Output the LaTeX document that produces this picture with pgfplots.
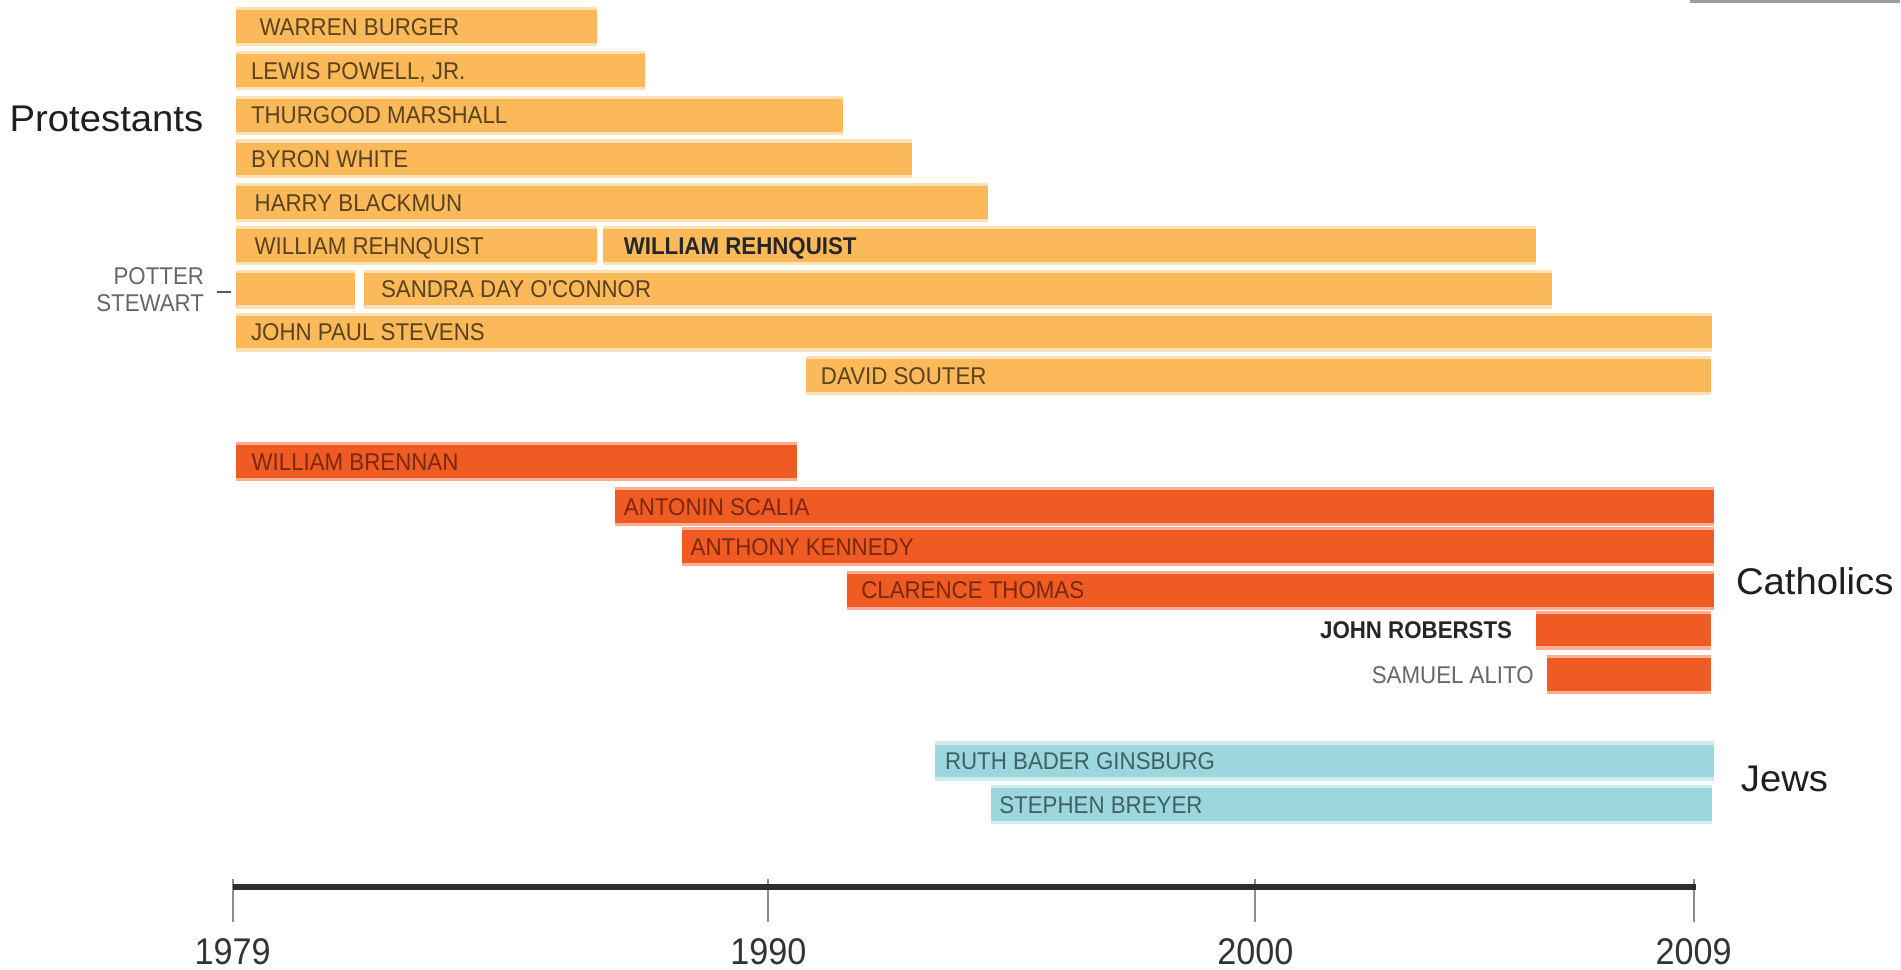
\documentclass[border=0pt]{standalone}
\usepackage{pgfplots}
\pgfplotsset{compat=1.18}
\usepackage{fontspec}
\setmainfont{Liberation Sans}
\newfontfamily\namefont{Liberation Sans}[FakeStretch=0.92]
\newfontfamily\groupfont{Liberation Sans}[FakeStretch=1.03]

\definecolor{prot}{HTML}{FBB95A}
\definecolor{protL}{HTML}{FDE2B6}
\definecolor{prottext}{HTML}{5A421C}
\definecolor{cath}{HTML}{F05A23}
\definecolor{cathL}{HTML}{F7AE92}
\definecolor{cathtext}{HTML}{7A280E}
\definecolor{jew}{HTML}{9BD7DD}
\definecolor{jewL}{HTML}{CFEDF0}
\definecolor{jewtext}{HTML}{3E6066}

\tikzset{
  protbar/.style={draw=prot, line width=8.1pt, preaction={draw=protL, line width=9.7pt}},
  cathbar/.style={draw=cath, line width=8.1pt, preaction={draw=cathL, line width=9.7pt}},
  jewbar/.style={draw=jew, line width=8.1pt, preaction={draw=jewL, line width=9.7pt}},
  lbl/.style={font=\namefont\fontsize{6}{7}\selectfont, inner sep=0pt, outer sep=0pt,
    text height=4.3pt, text depth=0pt, anchor=west, pos=0},
  lblb/.style={lbl, font=\namefont\fontsize{6}{7}\bfseries\selectfont, text=black!85},
  grp/.style={font=\groupfont\fontsize{9.2}{11}\selectfont, inner sep=0pt, outer sep=0pt,
    text height=6.6pt, text depth=0pt, anchor=west, text=black!88},
}

\begin{document}
\begin{tikzpicture}
\begin{axis}[
  width=470.4pt, height=240pt, scale only axis,
  xmin=1974.224, xmax=2013.229, ymin=-68, ymax=732,
  clip=false,
  axis background/.style={fill=white},
  axis x line=middle, axis y line=none,
  x axis line style={draw=none},
  xtick={1979,1990,2000,2009},
  xticklabels={1979,1990,2000,2009},
  ytick=\empty,
  tick align=outside,
  major tick length=10.7pt,
  xtick style={draw=black!45, line width=0.5pt, yshift=1.9pt},
  xticklabel style={font=\namefont\fontsize{9.2}{11}\selectfont, text=black!80,
    inner sep=0pt, outer sep=0pt, text height=6.6pt, text depth=0pt, anchor=north, yshift=-1.9pt},
]

% Protestants
\addplot[protbar] coordinates {(1979.08,710) (1986.48,710)} node[lbl, xshift=5.7pt, text=prottext] {WARREN BURGER};
\addplot[protbar] coordinates {(1979.08,674) (1987.47,674)} node[lbl, xshift=3.6pt, text=prottext] {LEWIS POWELL, JR.};
\addplot[protbar] coordinates {(1979.08,637) (1991.54,637)} node[lbl, xshift=3.6pt, text=prottext] {THURGOOD MARSHALL};
\addplot[protbar] coordinates {(1979.08,601) (1992.96,601)} node[lbl, xshift=3.6pt, text=prottext] {BYRON WHITE};
\addplot[protbar] coordinates {(1979.08,565) (1994.51,565)} node[lbl, xshift=4.5pt, text=prottext] {HARRY BLACKMUN};
\addplot[protbar] coordinates {(1979.08,529.5) (1986.48,529.5)} node[lbl, xshift=4.5pt, text=prottext] {WILLIAM REHNQUIST};
\addplot[protbar] coordinates {(1986.61,529.5) (2005.77,529.5)} node[lblb, xshift=5.1pt] {WILLIAM REHNQUIST};
\addplot[protbar] coordinates {(1979.08,493.5) (1981.51,493.5)};
\addplot[protbar] coordinates {(1981.70,493.5) (2006.09,493.5)} node[lbl, xshift=4.2pt, text=prottext] {SANDRA DAY O'CONNOR};
\addplot[protbar] coordinates {(1979.08,458) (2009.37,458)} node[lbl, xshift=3.6pt, text=prottext] {JOHN PAUL STEVENS};
\addplot[protbar] coordinates {(1990.77,422) (2009.36,422)} node[lbl, xshift=3.75pt, text=prottext] {DAVID SOUTER};

% Catholics
\addplot[cathbar] coordinates {(1979.08,351.3) (1990.58,351.3)} node[lbl, xshift=3.75pt, text=cathtext] {WILLIAM BRENNAN};
\addplot[cathbar] coordinates {(1986.85,314) (2009.42,314)} node[lbl, xshift=2.25pt, text=cathtext] {ANTONIN SCALIA};
\addplot[cathbar] coordinates {(1988.22,281) (2009.42,281)} node[lbl, xshift=2.25pt, text=cathtext] {ANTHONY KENNEDY};
\addplot[cathbar] coordinates {(1991.61,245) (2009.42,245)} node[lbl, xshift=3.6pt, text=cathtext] {CLARENCE THOMAS};
\addplot[cathbar] coordinates {(2005.77,212) (2009.36,212)} node[lblb, anchor=east, xshift=-6pt] {JOHN ROBERSTS};
\addplot[cathbar] coordinates {(2005.99,175.5) (2009.36,175.5)} node[lbl, anchor=east, xshift=-3.3pt, text=black!60] {SAMUEL ALITO};

% Jews
\addplot[jewbar] coordinates {(1993.43,104) (2009.42,104)} node[lbl, xshift=2.4pt, text=jewtext] {RUTH BADER GINSBURG};
\addplot[jewbar] coordinates {(1994.57,68) (2009.37,68)} node[lbl, xshift=2.1pt, text=jewtext] {STEPHEN BREYER};

% timeline
\addplot[draw=black!82, line width=1.7pt] coordinates {(1979,0) (2009.05,0)};
\addplot[draw=black!38, line width=0.7pt] coordinates {(2008.93,731) (2013.229,731)};

% group labels and notes
\node[grp] at (axis cs:1974.423,634.5) {Protestants};
\node[grp] at (axis cs:2009.871,252.4) {Catholics};
\node[grp] at (axis cs:2009.97,90) {Jews};
\node[anchor=east, align=right, inner sep=0pt, font=\namefont\fontsize{6}{6.6}\selectfont, text=black!60]
  at (axis cs:1978.43,493) {POTTER\\STEWART};
\draw[black!65, line width=0.45pt] (axis cs:1978.687,491) -- (axis cs:1978.975,491);

\end{axis}
\end{tikzpicture}
\end{document}
